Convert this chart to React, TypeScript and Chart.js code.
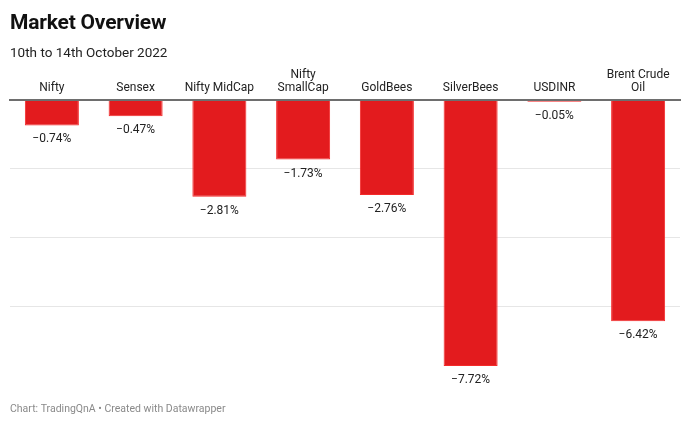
import React, { useEffect, useRef } from "react";
import { Chart, registerables } from "chart.js";

Chart.register(...registerables);

const TITLE = "Market Overview";
const SUBTITLE = "10th to 14th October 2022";
const FOOTER = "Chart: TradingQnA \u2022 Created with Datawrapper";

const categories: (string | string[])[] = [
  "Nifty",
  "Sensex",
  "Nifty MidCap",
  ["Nifty", "SmallCap"],
  "GoldBees",
  "SilverBees",
  "USDINR",
  ["Brent Crude", "Oil"],
];
const weeklyChange: number[] = [-0.74, -0.47, -2.81, -1.73, -2.76, -7.72, -0.05, -6.42];
const gridStep = 2;

const FONT = "Roboto, 'Noto Sans', Arial, sans-serif";

export default function App() {
  const ref = useRef<HTMLCanvasElement | null>(null);

  useEffect(() => {
    const canvas = ref.current;
    if (!canvas) return;

    const textPlugin = {
      id: "texts",
      afterDraw(chart: any) {
        const ctx = chart.ctx;
        ctx.save();
        ctx.textAlign = "left";
        ctx.textBaseline = "alphabetic";
        ctx.fillStyle = "#111111";
        ctx.font = `700 21px ${FONT}`;
        try { (ctx as any).letterSpacing = "-0.2px"; } catch (e) {}
        ctx.fillText(TITLE, 10, 28.5);
        try { (ctx as any).letterSpacing = "0px"; } catch (e) {}
        ctx.fillStyle = "#222222";
        ctx.font = `400 13.5px ${FONT}`;
        ctx.fillText(SUBTITLE, 10, 56.5);
        ctx.fillStyle = "#8a8a8a";
        ctx.font = `400 10.5px ${FONT}`;
        ctx.fillText(FOOTER, 10, 412);

        // value labels
        const meta = chart.getDatasetMeta(0);
        ctx.textAlign = "center";
        ctx.fillStyle = "#222222";
        ctx.font = `400 12px ${FONT}`;
        meta.data.forEach((bar: any, i: number) => {
          const v = weeklyChange[i];
          const txt = (v < 0 ? "\u2212" : "") + Math.abs(v).toFixed(2) + "%";
          ctx.fillText(txt, bar.x, bar.y + 17);
        });
        ctx.restore();
      },
    };

    const chart = new Chart(canvas, {
      type: "bar",
      data: {
        labels: categories as any,
        datasets: [
          {
            data: weeklyChange,
            backgroundColor: "#e31b1e",
            borderColor: "#f42a2a",
            borderWidth: 1,
            categoryPercentage: 1,
            barPercentage: 0.645,
          },
        ],
      },
      options: {
        animation: false,
        responsive: false,
        maintainAspectRatio: false,
        layout: { padding: { left: 10, right: 10, top: 0, bottom: 58 } },
        plugins: {
          legend: { display: false },
          tooltip: { enabled: false },
          title: { display: false },
        },
        scales: {
          x: {
            position: "top",
            grid: { display: false, drawTicks: false },
            border: { display: true, color: "#6e6e6e", width: 2, z: 1 },
            ticks: {
              color: "#222222",
              font: { family: FONT, size: 12, lineHeight: 1.1 },
              padding: 5,
              maxRotation: 0,
              autoSkip: false,
            },
            afterFit: (s: any) => {
              s.height = 100;
            },
          },
          y: {
            min: -7.72,
            max: 0,
            ticks: { display: false, stepSize: gridStep },
            border: { display: false },
            grid: {
              drawTicks: false,
              color: (c: any) => (c.tick && c.tick.value === 0 ? "rgba(0,0,0,0)" : "#e6e6e6"),
              lineWidth: 1,
            },
            afterBuildTicks: (s: any) => {
              s.ticks = s.ticks.filter((t: any) => Math.abs(t.value % gridStep) < 1e-9);
            },
            afterFit: (s: any) => {
              s.width = 0;
            },
          },
        },
      },
      plugins: [textPlugin],
    } as any);

    return () => chart.destroy();
  }, []);

  return (
    <div style={{ position: "absolute", left: 0, top: 0, width: 690, height: 424, background: "#fff" }}>
      <canvas ref={ref} width={690} height={424} style={{ display: "block", width: 690, height: 424 }} />
    </div>
  );
}
